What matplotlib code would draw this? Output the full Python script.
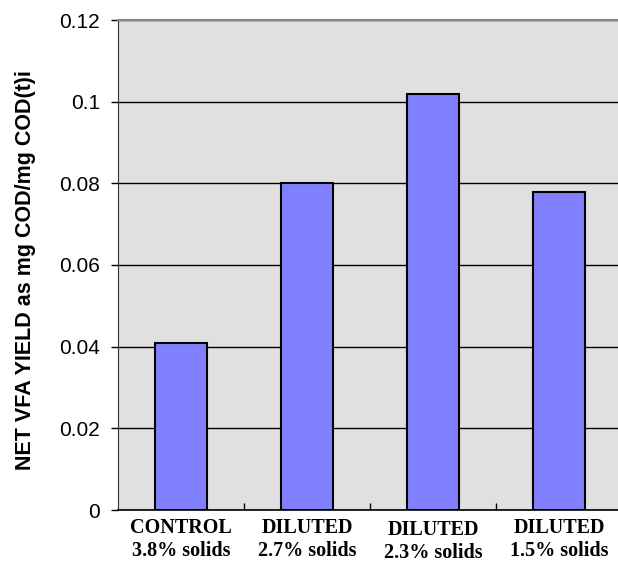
import numpy as np
import matplotlib.pyplot as plt
import matplotlib.transforms as mtransforms

groups = ["CONTROL", "DILUTED", "DILUTED", "DILUTED"]
solids = ["3.8% solids", "2.7% solids", "2.3% solids", "1.5% solids"]
yields = [0.041, 0.080, 0.102, 0.078]
yticks = [0, 0.02, 0.04, 0.06, 0.08, 0.1, 0.12]
ytick_labels = ["0", "0.02", "0.04", "0.06", "0.08", "0.1", "0.12"]

fig = plt.figure(figsize=(6.18, 5.62), dpi=100)
ax = fig.add_axes([118 / 618, 52 / 562, 504 / 618, 490 / 562])
ax.set_facecolor("#e0e0e0")

x = np.arange(len(groups)) + 0.5
ax.bar(x, yields, width=0.405, color="#8080ff", edgecolor="black",
       linewidth=1.5, zorder=3)

ax.set_xlim(0, 4)
ax.set_ylim(0, 0.12)
ax.set_yticks(yticks)
ax.set_yticklabels(ytick_labels, fontname="Liberation Sans", fontsize=15)
ax.yaxis.grid(True, color="black", linewidth=1.0, zorder=1)
ax.set_axisbelow(True)

# category ticks sit between bars, labels under bar centers
ax.set_xticks([1, 2, 3])
ax.set_xticklabels([])
ax.tick_params(axis="x", direction="in", length=5, width=1)
ax.tick_params(axis="y", direction="out", length=5, width=1, pad=8)

trans = mtransforms.blended_transform_factory(ax.transData, ax.transAxes)
for i, (xi, g, s) in enumerate(zip(x, groups, solids)):
    shift = 0.004 if i == 2 else 0.0
    ax.text(xi, -0.047 - shift, g, transform=trans, ha="center", va="baseline",
            fontname="Liberation Serif", fontweight="bold", fontsize=14.5)
    ax.text(xi, -0.093 - shift, s, transform=trans, ha="center", va="baseline",
            fontname="Liberation Serif", fontweight="bold", fontsize=14.5)

ax.set_ylabel("NET VFA YIELD as mg COD/mg COD(t)i", fontname="Liberation Sans",
              fontweight="bold", fontsize=15.5)
ax.yaxis.set_label_coords(-0.162, 0.49)

ax.spines["top"].set_color("#888888")
ax.spines["top"].set_linewidth(1.5)
ax.spines["left"].set_color("#333333")
ax.spines["bottom"].set_color("black")
ax.spines["bottom"].set_linewidth(1.2)
ax.spines["right"].set_visible(False)

fig.savefig("out.png", dpi=100)
